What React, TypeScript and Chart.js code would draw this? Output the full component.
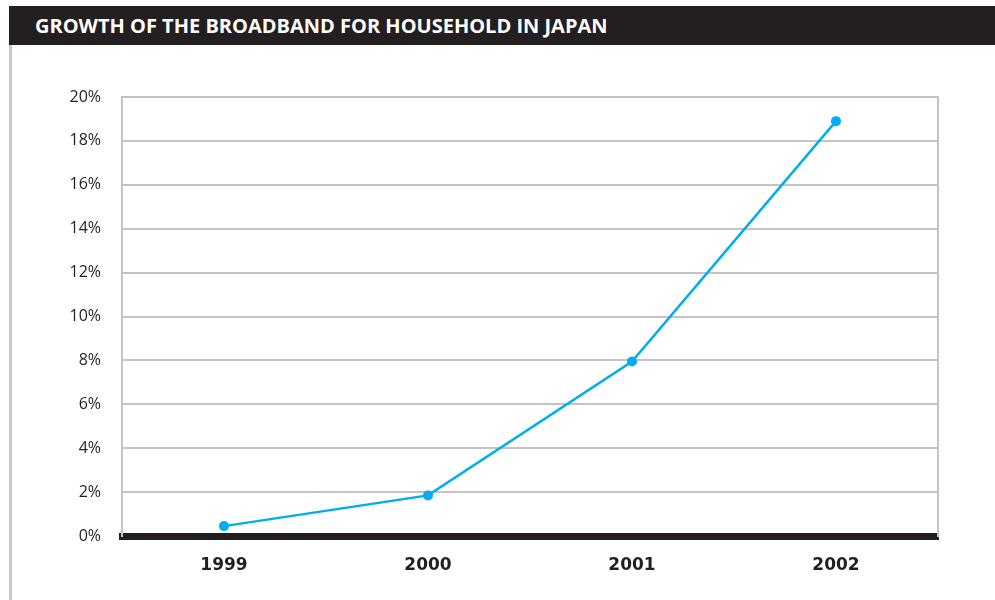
import React, { useEffect, useRef } from "react";
import { Chart, registerables } from "chart.js";

Chart.register(...registerables);

const TITLE = "GROWTH OF THE BROADBAND FOR HOUSEHOLD IN JAPAN";
const years = ["1999", "2000", "2001", "2002"];
const householdShare = [0.45, 1.85, 7.95, 18.9];
const yTickMin = 0;
const yTickMax = 20;
const yTickStep = 2;

export default function App() {
  const ref = useRef<HTMLCanvasElement | null>(null);

  useEffect(() => {
    if (!ref.current) return;
    const chart = new Chart(ref.current, {
      type: "line",
      data: {
        labels: years,
        datasets: [
          {
            data: householdShare,
            borderColor: "#00aeef",
            backgroundColor: "#00aeef",
            borderWidth: 2.5,
            pointRadius: 5,
            pointBackgroundColor: "#00aeef",
            pointBorderWidth: 0,
            tension: 0,
          },
        ],
      },
      options: {
        animation: false,
        responsive: false,
        devicePixelRatio: 1,
        layout: { padding: { top: 47, left: 0, right: 0, bottom: 0 } },
        plugins: { legend: { display: false }, tooltip: { enabled: false }, title: { display: false } },
        scales: {
          x: {
            type: "category",
            offset: true,
            grid: { display: false, drawTicks: false },
            border: { display: true, color: "#231f20", width: 7 },
            ticks: {
              color: "#231f20",
              padding: 19,
              font: { family: "DejaVu Sans", weight: "bold", size: 17 },
            },
            afterFit: (s: any) => {
              s.height = 64;
            },
          },
          y: {
            min: yTickMin,
            max: yTickMax,
            grid: { color: "#c4c4c6", lineWidth: 2, drawTicks: false },
            border: { display: true, color: "#c4c4c6", width: 2 },
            ticks: {
              stepSize: yTickStep,
              color: "#231f20",
              padding: 21,
              font: { family: "Open Sans", size: 16 },
              callback: (v: any) => `${v}%`,
            },
            afterFit: (s: any) => {
              s.width = 122;
            },
          },
          yRight: {
            position: "right",
            display: true,
            grid: { display: false, drawTicks: false },
            border: { display: true, color: "#c4c4c6", width: 2 },
            ticks: { display: false },
            afterFit: (s: any) => {
              s.width = 57;
            },
          },
        },
      },
    } as any);
    return () => chart.destroy();
  }, []);

  return (
    <div style={{ position: "fixed", left: 0, top: 0, width: 995, height: 600, background: "#fff", overflow: "hidden" }}>
      <div
        style={{
          position: "absolute",
          left: 9,
          top: 6,
          width: 986,
          height: 39,
          background: "#231f20",
          color: "#fff",
          fontFamily: "'Open Sans', sans-serif",
          fontWeight: 700,
          fontSize: 20,
          lineHeight: "39px",
          paddingLeft: 26,
          boxSizing: "border-box",
          letterSpacing: 0,
          whiteSpace: "nowrap",
        }}
      >
        {TITLE}
      </div>
      <div style={{ position: "absolute", left: 9, top: 45, width: 3, height: 555, background: "#c6c6c8" }} />
      <canvas ref={ref} width={995} height={550} style={{ position: "absolute", left: 0, top: 50, width: 995, height: 550 }} />
    </div>
  );
}
